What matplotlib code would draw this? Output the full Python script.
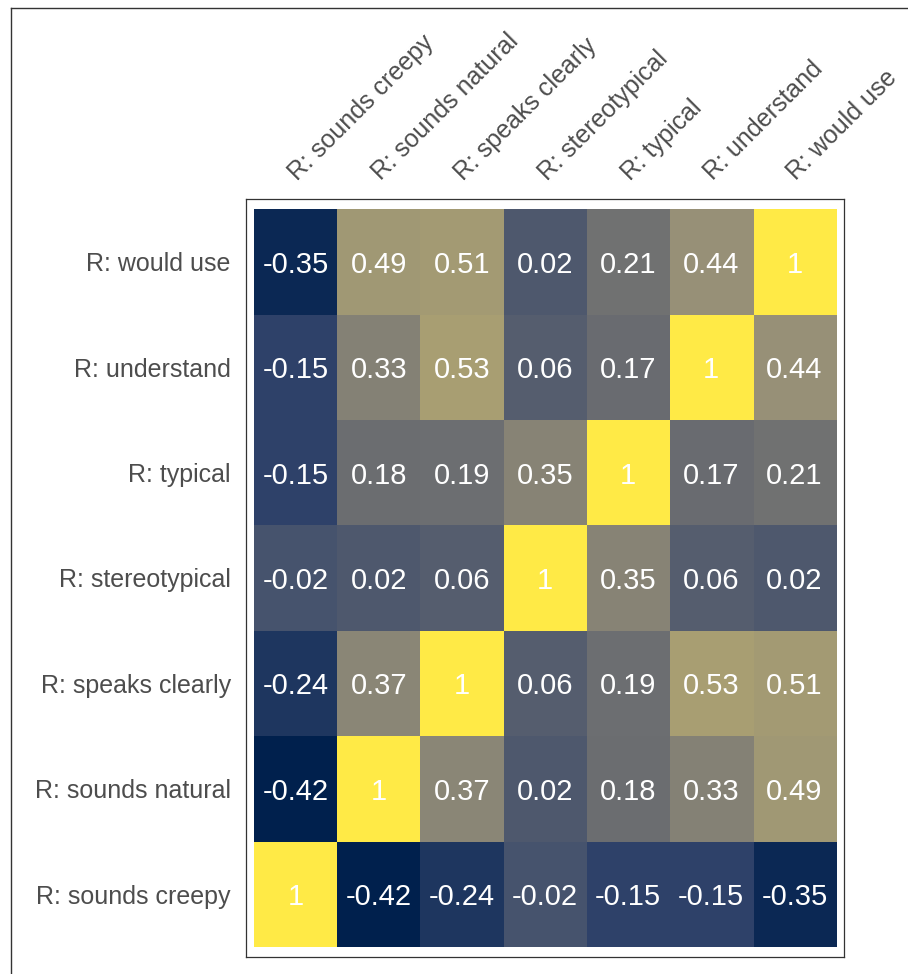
import matplotlib
matplotlib.use("Agg")
import matplotlib.pyplot as plt
import matplotlib.transforms as mtransforms
from matplotlib.colors import LinearSegmentedColormap
from matplotlib.lines import Line2D
import numpy as np

plt.rcParams['font.family'] = ['Liberation Sans', 'DejaVu Sans']

# variables (column order, left to right)
labels = ["R: sounds creepy", "R: sounds natural", "R: speaks clearly",
          "R: stereotypical", "R: typical", "R: understand", "R: would use"]

# correlation matrix, same order as labels
corr = np.array([
    [1.00, -0.42, -0.24, -0.02, -0.15, -0.15, -0.35],
    [-0.42, 1.00, 0.37, 0.02, 0.18, 0.33, 0.49],
    [-0.24, 0.37, 1.00, 0.06, 0.19, 0.53, 0.51],
    [-0.02, 0.02, 0.06, 1.00, 0.35, 0.06, 0.02],
    [-0.15, 0.18, 0.19, 0.35, 1.00, 0.17, 0.21],
    [-0.15, 0.33, 0.53, 0.06, 0.17, 1.00, 0.44],
    [-0.35, 0.49, 0.51, 0.02, 0.21, 0.44, 1.00],
])

# cividis as a 6-stop gradient
cividis6 = ["#00204D", "#31446B", "#666970", "#958F78", "#CBBA69", "#FFEA46"]
cmap = LinearSegmentedColormap.from_list("cividis6", cividis6)

W, H = 908, 974
fig = plt.figure(figsize=(W / 100, H / 100), dpi=100)

# panel box in pixels (left, top, right, bottom)
bl, bt, br, bb = 246, 199, 844, 957
ax = fig.add_axes([bl / W, 1 - bb / H, (br - bl) / W, (bb - bt) / H])

n = len(labels)
ax.imshow(corr, cmap=cmap, vmin=corr.min(), vmax=1, origin='lower',
          aspect='auto', interpolation='nearest')

mx, my = 0.096, 0.095
ax.set_xlim(-0.5 - mx, n - 0.5 + mx)
ax.set_ylim(-0.5 - my, n - 0.5 + my)

for i in range(n):
    for j in range(n):
        v = corr[i, j]
        txt = "1" if v == 1 else "%.2f" % v
        ax.text(j, i, txt, ha='center', va='center_baseline', color='white',
                fontsize=21)

ax.set_xticks([])
ax.set_yticks(range(n))
ax.set_yticklabels(labels, fontsize=18, color='#4D4D4D', va='center_baseline')
ax.tick_params(axis='y', length=0, pad=11)

# rotated top labels
for j, lab in enumerate(labels):
    tr = mtransforms.blended_transform_factory(ax.transData, ax.transAxes) + \
        mtransforms.ScaledTranslation(0.02, 0.18, fig.dpi_scale_trans)
    ax.text(j, 1.0, lab, transform=tr, rotation=45, rotation_mode='anchor',
            ha='left', va='baseline', fontsize=18, color='#4D4D4D')

for s in ax.spines.values():
    s.set_color('#333333')
    s.set_linewidth(0.9)

# outer figure border (left and top edges visible)
fig.add_artist(Line2D([10.5 / W, 10.5 / W], [1 - 7.5 / H, -0.1], color='#333333',
                      lw=1.0, transform=fig.transFigure))
fig.add_artist(Line2D([10.5 / W, 1.1], [1 - 7.5 / H, 1 - 7.5 / H], color='#333333',
                      lw=1.0, transform=fig.transFigure))

fig.savefig("out.png", dpi=100)
